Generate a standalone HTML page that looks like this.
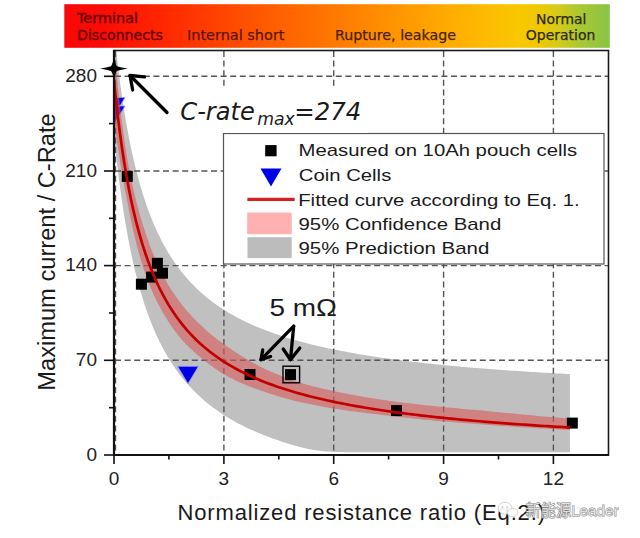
<!DOCTYPE html>
<html><head><meta charset="utf-8"><style>
html,body{margin:0;padding:0;background:#fff;}
body{width:640px;height:538px;overflow:hidden;}
svg{display:block;}
.arial{font-family:"Liberation Sans",Arial,sans-serif;}
.verd{font-family:"DejaVu Sans",Verdana,sans-serif;}
</style></head><body>
<svg width="640" height="538" viewBox="0 0 640 538">
<defs>
<linearGradient id="bar" x1="0" y1="0" x2="1" y2="0">
<stop offset="0" stop-color="#f80808"/>
<stop offset="0.07" stop-color="#fa0c06"/>
<stop offset="0.193" stop-color="#ff2a00"/>
<stop offset="0.358" stop-color="#ff5800"/>
<stop offset="0.486" stop-color="#ff7600"/>
<stop offset="0.633" stop-color="#ff9b00"/>
<stop offset="0.743" stop-color="#ffb400"/>
<stop offset="0.835" stop-color="#f8c800"/>
<stop offset="0.872" stop-color="#eec802"/>
<stop offset="0.908" stop-color="#d2cb1e"/>
<stop offset="0.945" stop-color="#aac832"/>
<stop offset="1" stop-color="#88c446"/>
</linearGradient>
<clipPath id="plot"><rect x="114" y="51" width="494" height="403"/></clipPath>
</defs>
<rect x="64.3" y="4.2" width="545.5" height="43.6" fill="url(#bar)"/>
<g class="verd" font-size="14" stroke-width="0.25">
<text x="77" y="23" fill="#6e0404" stroke="#6e0404" stroke-width="0.45" textLength="61" lengthAdjust="spacingAndGlyphs">Terminal</text>
<text x="77" y="39.8" fill="#6e0404" stroke="#6e0404" stroke-width="0.45" textLength="86" lengthAdjust="spacingAndGlyphs">Disconnects</text>
<text x="187" y="40" fill="#5a1606" stroke="#5a1606" textLength="97.5" lengthAdjust="spacingAndGlyphs">Internal short</text>
<text x="335" y="40" fill="#4a2200" stroke="#4a2200" textLength="121" lengthAdjust="spacingAndGlyphs">Rupture, leakage</text>
<text x="536" y="23.9" fill="#2e2a08" stroke="#2e2a08" textLength="50.5" lengthAdjust="spacingAndGlyphs">Normal</text>
<text x="525.8" y="39.8" fill="#2e2a08" stroke="#2e2a08" textLength="69.5" lengthAdjust="spacingAndGlyphs">Operation</text>
</g>
<g clip-path="url(#plot)">
<path d="M114.00,29.34 114.31,32.47 114.62,35.56 114.93,38.60 115.24,41.58 115.55,44.52 115.86,47.41 116.17,50.26 116.48,53.06 116.79,55.81 117.10,58.53 117.41,61.20 117.72,63.83 118.03,66.42 118.34,68.97 118.66,71.48 118.97,73.95 119.28,76.39 119.59,78.79 119.90,81.16 120.21,83.49 120.52,85.79 120.83,88.06 121.14,90.29 121.45,92.50 121.76,94.67 122.07,96.81 122.38,98.92 122.69,101.01 123.00,103.06 123.31,105.09 123.62,107.09 123.93,109.07 124.24,111.01 124.55,112.94 124.86,114.83 125.17,116.71 125.48,118.55 125.79,120.38 126.10,122.18 126.41,123.96 126.72,125.72 127.03,127.45 127.34,129.16 127.65,130.86 127.97,132.53 128.28,134.18 128.59,135.81 128.90,137.42 129.21,139.01 129.52,140.58 129.83,142.14 130.14,143.68 130.45,145.19 130.76,146.69 131.07,148.18 131.38,149.64 131.69,151.09 132.00,152.53 132.31,153.94 133.24,158.10 134.17,162.12 135.10,166.01 136.03,169.77 136.97,173.42 137.90,176.96 138.83,180.39 139.76,183.72 140.69,186.95 141.62,190.08 142.55,193.13 143.48,196.09 144.41,198.97 145.34,201.77 146.28,204.49 147.21,207.14 148.14,209.72 149.07,212.24 150.00,214.69 150.93,217.08 151.86,219.40 152.79,221.68 153.72,223.89 154.65,226.05 155.59,228.16 156.52,230.22 157.45,232.24 158.38,234.20 159.31,236.12 160.24,238.00 161.17,239.84 162.10,241.63 163.03,243.39 163.96,245.11 164.90,246.79 165.83,248.44 166.76,250.05 167.69,251.63 168.62,253.18 169.55,254.70 170.48,256.18 171.41,257.64 172.34,259.06 173.27,260.46 174.21,261.84 175.14,263.18 176.07,264.50 177.00,265.80 177.93,267.07 178.86,268.32 179.79,269.55 180.72,270.75 181.65,271.93 182.58,273.10 183.52,274.24 184.45,275.36 185.38,276.46 186.31,277.54 187.24,278.61 190.46,282.15 193.67,285.49 196.89,288.66 200.10,291.65 203.32,294.50 206.53,297.20 209.75,299.77 212.97,302.22 216.18,304.55 219.40,306.78 222.61,308.91 225.83,310.94 229.05,312.89 232.26,314.76 235.48,316.55 238.69,318.27 241.91,319.92 245.12,321.50 248.34,323.03 251.56,324.50 254.77,325.92 257.99,327.28 261.20,328.60 264.42,329.87 267.63,331.10 270.85,332.28 274.07,333.43 277.28,334.54 280.50,335.62 283.71,336.66 286.93,337.66 290.15,338.64 293.36,339.59 296.58,340.51 299.79,341.40 303.01,342.27 306.22,343.11 309.44,343.93 312.66,344.72 315.87,345.50 319.09,346.25 322.30,346.98 325.52,347.70 328.73,348.39 331.95,349.07 335.17,349.73 338.38,350.37 341.60,351.00 344.81,351.61 348.03,352.20 351.25,352.79 354.46,353.35 357.68,353.91 360.89,354.45 364.11,354.98 367.32,355.50 370.54,356.01 373.76,356.50 376.97,356.98 380.19,357.46 383.40,357.92 386.62,358.37 389.83,358.82 393.05,359.25 396.27,359.68 399.48,360.09 402.70,360.50 405.91,360.90 409.13,361.29 412.35,361.67 415.56,362.05 418.78,362.42 421.99,362.78 425.21,363.13 428.42,363.48 431.64,363.82 434.86,364.16 438.07,364.49 441.29,364.81 444.50,365.13 447.72,365.44 450.93,365.74 454.15,366.04 457.37,366.34 460.58,366.63 463.80,366.91 467.01,367.19 470.23,367.47 473.45,367.74 476.66,368.00 479.88,368.26 483.09,368.52 486.31,368.77 489.52,369.02 492.74,369.26 495.96,369.50 499.17,369.74 502.39,369.97 505.60,370.20 508.82,370.43 512.03,370.65 515.25,370.87 518.47,371.08 521.68,371.29 524.90,371.50 528.11,371.71 531.33,371.91 534.55,372.11 537.76,372.30 540.98,372.49 544.19,372.68 547.41,372.87 550.62,373.06 553.84,373.24 557.06,373.42 560.27,373.59 563.49,373.77 566.70,373.94 569.92,374.11 L569.92,452.29 566.70,452.29 563.49,452.29 560.27,452.29 557.06,452.29 553.84,452.29 550.62,452.29 547.41,452.29 544.19,452.29 540.98,452.29 537.76,452.29 534.55,452.29 531.33,452.29 528.11,452.29 524.90,452.29 521.68,452.29 518.47,452.29 515.25,452.29 512.03,452.29 508.82,452.29 505.60,452.29 502.39,452.29 499.17,452.29 495.96,452.29 492.74,452.29 489.52,452.29 486.31,452.29 483.09,452.29 479.88,452.29 476.66,452.29 473.45,452.29 470.23,452.29 467.01,452.29 463.80,452.29 460.58,452.29 457.37,452.29 454.15,452.29 450.93,452.29 447.72,452.29 444.50,452.29 441.29,452.29 438.07,452.29 434.86,452.29 431.64,452.29 428.42,452.29 425.21,452.29 421.99,452.29 418.78,452.29 415.56,452.29 412.35,452.29 409.13,452.29 405.91,452.29 402.70,452.29 399.48,452.29 396.27,452.29 393.05,452.29 389.83,452.29 386.62,452.29 383.40,452.29 380.19,452.29 376.97,452.28 373.76,452.28 370.54,452.28 367.32,452.27 364.11,452.27 360.89,452.26 357.68,452.25 354.46,452.23 351.25,452.21 348.03,452.18 344.81,452.14 341.60,452.09 338.38,452.02 335.17,451.92 331.95,451.79 328.73,451.61 325.52,451.39 322.30,451.09 319.09,450.72 315.87,450.28 312.66,449.74 309.44,449.13 306.22,448.45 303.01,447.70 299.79,446.90 296.58,446.04 293.36,445.14 290.15,444.20 286.93,443.23 283.71,442.21 280.50,441.16 277.28,440.08 274.07,438.96 270.85,437.80 267.63,436.60 264.42,435.35 261.20,434.07 257.99,432.74 254.77,431.36 251.56,429.93 248.34,428.44 245.12,426.90 241.91,425.30 238.69,423.64 235.48,421.90 232.26,420.10 229.05,418.22 225.83,416.26 222.61,414.21 219.40,412.06 216.18,409.82 212.97,407.47 209.75,405.01 206.53,402.43 203.32,399.71 200.10,396.85 196.89,393.84 193.67,390.66 190.46,387.31 187.24,383.75 186.31,382.68 185.38,381.59 184.45,380.49 183.52,379.36 182.58,378.22 181.65,377.05 180.72,375.87 179.79,374.66 178.86,373.43 177.93,372.17 177.00,370.90 176.07,369.60 175.14,368.27 174.21,366.92 173.27,365.55 172.34,364.14 171.41,362.71 170.48,361.25 169.55,359.76 168.62,358.24 167.69,356.69 166.76,355.11 165.83,353.49 164.90,351.84 163.96,350.15 163.03,348.43 162.10,346.67 161.17,344.87 160.24,343.03 159.31,341.14 158.38,339.22 157.45,337.25 156.52,335.23 155.59,333.17 154.65,331.05 153.72,328.89 152.79,326.67 151.86,324.39 150.93,322.06 150.00,319.67 149.07,317.21 148.14,314.69 147.21,312.11 146.28,309.45 145.34,306.73 144.41,303.92 143.48,301.04 142.55,298.07 141.62,295.02 140.69,291.88 139.76,288.65 138.83,285.32 137.90,281.89 136.97,278.34 136.03,274.69 135.10,270.92 134.17,267.03 133.24,263.00 132.31,258.84 132.00,257.42 131.69,255.99 131.38,254.54 131.07,253.07 130.76,251.59 130.45,250.08 130.14,248.57 129.83,247.03 129.52,245.47 129.21,243.90 128.90,242.30 128.59,240.69 128.28,239.06 127.97,237.41 127.65,235.74 127.34,234.04 127.03,232.33 126.72,230.59 126.41,228.83 126.10,227.05 125.79,225.25 125.48,223.42 125.17,221.57 124.86,219.70 124.55,217.80 124.24,215.88 123.93,213.93 123.62,211.95 123.31,209.95 123.00,207.92 122.69,205.87 122.38,203.78 122.07,201.67 121.76,199.52 121.45,197.35 121.14,195.14 120.83,192.91 120.52,190.64 120.21,188.34 119.90,186.00 119.59,183.64 119.28,181.23 118.97,178.79 118.66,176.32 118.34,173.80 118.03,171.25 117.72,168.66 117.41,166.03 117.10,163.36 116.79,160.64 116.48,157.89 116.17,155.09 115.86,152.24 115.55,149.35 115.24,146.41 114.93,143.42 114.62,140.38 114.31,137.29 114.00,134.15 Z" fill="#c0c0c0"/>
<g stroke="#555" stroke-width="1.4" stroke-dasharray="6 3.6" fill="none">
<line x1="115" y1="360.3" x2="608" y2="360.3"/>
<line x1="115" y1="265.6" x2="608" y2="265.6"/>
<line x1="115" y1="171.0" x2="608" y2="171.0"/>
<line x1="115" y1="76.3" x2="608" y2="76.3"/>
<line x1="115.5" y1="51" x2="115.5" y2="454"/>
<line x1="223.9" y1="51" x2="223.9" y2="454"/>
<line x1="333.7" y1="51" x2="333.7" y2="454"/>
<line x1="443.6" y1="51" x2="443.6" y2="454"/>
<line x1="553.4" y1="51" x2="553.4" y2="454"/>
</g>
<g fill="#0000e0" stroke="#9aa0ff" stroke-width="0.8">
<polygon points="104.0,97.6 125.0,97.6 114.5,115.1"/><polygon points="104.0,106.0 125.0,106.0 114.5,123.5"/><polygon points="177.5,366.3 198.5,366.3 188.0,383.8"/>
</g>
<path d="M114.00,44.73 114.31,48.32 114.62,51.86 114.93,55.35 115.24,58.79 115.55,62.18 115.86,65.53 116.17,68.83 116.48,72.08 116.79,75.29 117.10,78.45 117.41,81.58 117.72,84.66 118.03,87.70 118.34,90.71 118.66,93.67 118.97,96.60 119.28,99.49 119.59,102.30 119.90,104.97 120.21,107.60 120.52,110.20 120.83,112.76 121.14,115.29 121.45,117.79 121.76,120.26 122.07,122.70 122.38,125.12 122.69,127.50 123.00,129.85 123.31,132.18 123.62,134.47 123.93,136.75 124.24,138.99 124.55,141.21 124.86,143.41 125.17,145.58 125.48,147.73 125.79,149.85 126.10,151.95 126.41,154.02 126.72,156.08 127.03,157.90 127.34,159.62 127.65,161.31 127.97,162.98 128.28,164.64 128.59,166.27 128.90,167.88 129.21,169.47 129.52,171.05 129.83,172.60 130.14,174.14 130.45,175.66 130.76,177.16 131.07,178.65 131.38,180.11 131.69,181.57 132.00,183.00 132.31,184.42 133.24,188.58 134.17,192.60 135.10,196.50 136.03,200.27 136.97,203.92 137.90,207.46 138.83,210.90 139.76,214.23 140.69,217.46 141.62,220.60 142.55,223.65 143.48,226.63 144.41,229.59 145.34,232.47 146.28,235.27 147.21,238.01 148.14,240.67 149.07,243.26 150.00,245.79 150.93,248.26 151.86,250.67 152.79,253.02 153.72,255.32 154.65,257.56 155.59,259.75 156.52,261.89 157.45,263.98 158.38,266.03 159.31,268.03 160.24,269.99 161.17,271.91 162.10,273.75 163.03,275.52 163.96,277.26 164.90,278.96 165.83,280.62 166.76,282.25 167.69,283.84 168.62,285.41 169.55,286.94 170.48,288.44 171.41,289.91 172.34,291.36 173.27,292.77 174.21,294.16 175.14,295.53 176.07,296.86 177.00,298.17 177.93,299.46 178.86,300.73 179.79,301.97 180.72,303.19 181.65,304.39 182.58,305.57 183.52,306.72 184.45,307.86 185.38,308.98 186.31,310.08 187.24,311.16 190.46,314.76 193.67,318.16 196.89,321.38 200.10,324.43 203.32,327.51 206.53,330.44 209.75,333.23 212.97,335.91 216.18,338.47 219.40,340.93 222.61,343.28 225.83,345.55 229.05,347.73 232.26,349.92 235.48,352.09 238.69,354.19 241.91,356.21 245.12,358.18 248.34,360.08 251.56,361.93 254.77,363.72 257.99,365.47 261.20,367.16 264.42,368.69 267.63,370.15 270.85,371.56 274.07,372.93 277.28,374.27 280.50,375.57 283.71,376.83 286.93,378.07 290.15,379.27 293.36,380.44 296.58,381.59 299.79,382.70 303.01,383.62 306.22,384.49 309.44,385.34 312.66,386.16 315.87,386.97 319.09,387.75 322.30,388.51 325.52,389.26 328.73,389.98 331.95,390.69 335.17,391.38 338.38,392.05 341.60,392.71 344.81,393.35 348.03,393.98 351.25,394.59 354.46,395.19 357.68,395.77 360.89,396.35 364.11,396.91 367.32,397.45 370.54,397.99 373.76,398.52 376.97,399.03 380.19,399.53 383.40,399.99 386.62,400.44 389.83,400.88 393.05,401.32 396.27,401.74 399.48,402.15 402.70,402.56 405.91,402.96 409.13,403.35 412.35,403.73 415.56,404.10 418.78,404.47 421.99,404.83 425.21,405.18 428.42,405.53 431.64,405.87 434.86,406.20 438.07,406.53 441.29,406.85 444.50,407.16 447.72,407.47 450.93,407.78 454.15,408.07 457.37,408.37 460.58,408.65 463.80,408.94 467.01,409.22 470.23,409.49 473.45,409.76 476.66,410.02 479.88,410.28 483.09,410.62 486.31,410.96 489.52,411.30 492.74,411.63 495.96,411.95 499.17,412.28 502.39,412.59 505.60,412.91 508.82,413.22 512.03,413.53 515.25,413.83 518.47,414.14 521.68,414.43 524.90,414.73 528.11,415.02 531.33,415.31 534.55,415.59 537.76,415.88 540.98,416.15 544.19,416.43 547.41,416.70 550.62,416.98 553.84,417.24 557.06,417.51 560.27,417.77 563.49,418.01 566.70,418.26 569.92,418.49 L569.92,430.03 566.70,429.84 563.49,429.66 560.27,429.47 557.06,429.29 553.84,429.11 550.62,428.93 547.41,428.75 544.19,428.57 540.98,428.38 537.76,428.19 534.55,427.99 531.33,427.79 528.11,427.59 524.90,427.39 521.68,427.19 518.47,426.98 515.25,426.76 512.03,426.55 508.82,426.33 505.60,426.10 502.39,425.88 499.17,425.65 495.96,425.41 492.74,425.17 489.52,424.93 486.31,424.68 483.09,424.43 479.88,424.18 476.66,423.96 473.45,423.73 470.23,423.50 467.01,423.27 463.80,423.03 460.58,422.79 457.37,422.54 454.15,422.28 450.93,422.02 447.72,421.76 444.50,421.49 441.29,421.21 438.07,420.93 434.86,420.64 431.64,420.35 428.42,420.05 425.21,419.74 421.99,419.42 418.78,419.10 415.56,418.77 412.35,418.44 409.13,418.10 405.91,417.74 402.70,417.39 399.48,417.02 396.27,416.64 393.05,416.26 389.83,415.86 386.62,415.46 383.40,415.05 380.19,414.63 376.97,414.28 373.76,413.93 370.54,413.57 367.32,413.20 364.11,412.82 360.89,412.42 357.68,412.01 354.46,411.59 351.25,411.16 348.03,410.71 344.81,410.25 341.60,409.77 338.38,409.28 335.17,408.77 331.95,408.25 328.73,407.71 325.52,407.15 322.30,406.57 319.09,405.97 315.87,405.35 312.66,404.71 309.44,404.05 306.22,403.37 303.01,402.66 299.79,401.93 296.58,401.17 293.36,400.38 290.15,399.56 286.93,398.71 283.71,397.83 280.50,396.92 277.28,395.98 274.07,394.99 270.85,393.98 267.63,392.92 264.42,391.82 261.20,390.70 257.99,389.60 254.77,388.45 251.56,387.25 248.34,386.00 245.12,384.69 241.91,383.32 238.69,381.89 235.48,380.39 232.26,378.82 229.05,377.14 225.83,375.32 222.61,373.41 219.40,371.40 216.18,369.30 212.97,367.09 209.75,364.77 206.53,362.32 203.32,359.75 200.10,357.03 196.89,354.38 193.67,351.57 190.46,348.58 187.24,345.39 186.31,344.43 185.38,343.45 184.45,342.45 183.52,341.43 182.58,340.39 181.65,339.33 180.72,338.25 179.79,337.15 178.86,336.03 177.93,334.88 177.00,333.71 176.07,332.52 175.14,331.30 174.21,330.06 173.27,328.79 172.34,327.49 171.41,326.16 170.48,324.81 169.55,323.43 168.62,322.01 167.69,320.57 166.76,319.09 165.83,317.58 164.90,316.04 163.96,314.46 163.03,312.84 162.10,311.19 161.17,309.51 160.24,307.83 159.31,306.10 158.38,304.32 157.45,302.50 156.52,300.64 155.59,298.73 154.65,296.77 153.72,294.75 152.79,292.69 151.86,290.56 150.93,288.38 150.00,286.14 149.07,283.84 148.14,281.48 147.21,279.04 146.28,276.54 145.34,273.97 144.41,271.32 143.48,268.59 142.55,265.65 141.62,262.60 140.69,259.46 139.76,256.23 138.83,252.90 137.90,249.46 136.97,245.92 136.03,242.27 135.10,238.50 134.17,234.60 133.24,230.58 132.31,226.42 132.00,225.00 131.69,223.57 131.38,222.11 131.07,220.65 130.76,219.16 130.45,217.66 130.14,216.14 129.83,214.60 129.52,213.05 129.21,211.47 128.90,209.88 128.59,208.27 128.28,206.64 127.97,204.98 127.65,203.31 127.34,201.62 127.03,199.90 126.72,198.26 126.41,196.80 126.10,195.31 125.79,193.81 125.48,192.28 125.17,190.72 124.86,189.15 124.55,187.54 124.24,185.92 123.93,184.26 123.62,182.59 123.31,180.88 123.00,179.15 122.69,177.39 122.38,175.60 122.07,173.78 121.76,171.93 121.45,170.06 121.14,168.15 120.83,166.21 120.52,164.24 120.21,162.23 119.90,160.20 119.59,158.12 119.28,156.13 118.97,154.14 118.66,152.11 118.34,150.05 118.03,147.95 117.72,145.81 117.41,143.63 117.10,141.41 116.79,139.15 116.48,136.85 116.17,134.50 115.86,132.10 115.55,129.66 115.24,127.18 114.93,124.64 114.62,122.06 114.31,119.42 114.00,116.73 Z" fill="#d85858" fill-opacity="0.6"/>
<g fill="#000">
<rect x="121.8" y="170.9" width="11.0" height="11.0"/>
<rect x="151.9" y="257.8" width="11.0" height="11.0"/>
<rect x="157.0" y="267.7" width="11.0" height="11.0"/>
<rect x="146.1" y="271.6" width="11.0" height="11.0"/>
<rect x="135.9" y="278.7" width="11.0" height="11.0"/>
<rect x="244.5" y="369.0" width="11.0" height="11.0"/>
<rect x="285.0" y="369.1" width="11.0" height="11.0"/>
<rect x="391.0" y="405.1" width="11.0" height="11.0"/>
<rect x="566.8" y="417.6" width="11.0" height="11.0"/>
</g>
<path d="M114.00,80.73 114.31,83.87 114.62,86.96 114.93,90.00 115.24,92.99 115.55,95.92 115.86,98.82 116.17,101.66 116.48,104.46 116.79,107.22 117.10,109.93 117.41,112.61 117.72,115.24 118.03,117.83 118.34,120.38 118.66,122.89 118.97,125.37 119.28,127.81 119.59,130.21 119.90,132.58 120.21,134.92 120.52,137.22 120.83,139.48 121.14,141.72 121.45,143.92 121.76,146.10 122.07,148.24 122.38,150.36 122.69,152.44 123.00,154.50 123.31,156.53 123.62,158.53 123.93,160.51 124.24,162.45 124.55,164.38 124.86,166.28 125.17,168.15 125.48,170.00 125.79,171.83 126.10,173.63 126.41,175.41 126.72,177.17 127.03,178.90 127.34,180.62 127.65,182.31 127.97,183.98 128.28,185.64 128.59,187.27 128.90,188.88 129.21,190.47 129.52,192.05 129.83,193.60 130.14,195.14 130.45,196.66 130.76,198.16 131.07,199.65 131.38,201.11 131.69,202.57 132.00,204.00 132.31,205.42 133.24,209.58 134.17,213.60 135.10,217.50 136.03,221.27 136.97,224.92 137.90,228.46 138.83,231.90 139.76,235.23 140.69,238.46 141.62,241.60 142.55,244.65 143.48,247.62 144.41,250.50 145.34,253.30 146.28,256.03 147.21,258.69 148.14,261.27 149.07,263.79 150.00,266.24 150.93,268.64 151.86,270.97 152.79,273.24 153.72,275.46 154.65,277.63 155.59,279.74 156.52,281.81 157.45,283.82 158.38,285.79 159.31,287.72 160.24,289.60 161.17,291.44 162.10,293.24 163.03,295.00 163.96,296.73 164.90,298.41 165.83,300.06 166.76,301.68 167.69,303.27 168.62,304.82 169.55,306.34 170.48,307.83 171.41,309.29 172.34,310.72 173.27,312.12 174.21,313.50 175.14,314.85 176.07,316.17 177.00,317.47 177.93,318.75 178.86,320.00 179.79,321.23 180.72,322.44 181.65,323.63 182.58,324.79 183.52,325.94 184.45,327.06 185.38,328.17 186.31,329.26 187.24,330.33 190.46,333.88 193.67,337.24 196.89,340.42 200.10,343.43 203.32,346.29 206.53,349.01 209.75,351.59 212.97,354.05 216.18,356.40 219.40,358.64 222.61,360.78 225.83,362.83 229.05,364.79 232.26,366.68 235.48,368.48 238.69,370.21 241.91,371.88 245.12,373.48 248.34,375.02 251.56,376.50 254.77,377.94 257.99,379.31 261.20,380.65 264.42,381.93 267.63,383.17 270.85,384.37 274.07,385.54 277.28,386.66 280.50,387.75 283.71,388.80 286.93,389.83 290.15,390.82 293.36,391.78 296.58,392.71 299.79,393.62 303.01,394.50 306.22,395.36 309.44,396.19 312.66,397.00 315.87,397.79 319.09,398.55 322.30,399.30 325.52,400.03 328.73,400.74 331.95,401.43 335.17,402.10 338.38,402.76 341.60,403.40 344.81,404.03 348.03,404.64 351.25,405.23 354.46,405.82 357.68,406.38 360.89,406.94 364.11,407.49 367.32,408.02 370.54,408.54 373.76,409.05 376.97,409.54 380.19,410.03 383.40,410.51 386.62,410.98 389.83,411.43 393.05,411.88 396.27,412.32 399.48,412.75 402.70,413.17 405.91,413.59 409.13,413.99 412.35,414.39 415.56,414.78 418.78,415.16 421.99,415.54 425.21,415.91 428.42,416.27 431.64,416.63 434.86,416.98 438.07,417.32 441.29,417.66 444.50,417.99 447.72,418.31 450.93,418.63 454.15,418.95 457.37,419.25 460.58,419.56 463.80,419.86 467.01,420.15 470.23,420.44 473.45,420.72 476.66,421.00 479.88,421.28 483.09,421.55 486.31,421.82 489.52,422.08 492.74,422.34 495.96,422.59 499.17,422.84 502.39,423.09 505.60,423.33 508.82,423.57 512.03,423.81 515.25,424.04 518.47,424.27 521.68,424.49 524.90,424.72 528.11,424.94 531.33,425.15 534.55,425.36 537.76,425.57 540.98,425.78 544.19,425.99 547.41,426.19 550.62,426.39 553.84,426.58 557.06,426.78 560.27,426.97 563.49,427.16 566.70,427.34 569.92,427.53" fill="none" stroke="#c20000" stroke-width="2.7"/>
</g>
<rect x="283" y="366.2" width="16.6" height="16.6" fill="none" stroke="#000" stroke-width="1.4"/>
<rect x="114" y="50.5" width="494.5" height="404.5" fill="none" stroke="#1a1a1a" stroke-width="1.6"/>
<line x1="114" y1="50" x2="114" y2="456" stroke="#111" stroke-width="2.2"/>
<line x1="113" y1="455" x2="609" y2="455" stroke="#111" stroke-width="2"/>
<g stroke="#111" stroke-width="1.6">
<line x1="104" y1="455.0" x2="114" y2="455.0"/>
<line x1="104" y1="360.3" x2="114" y2="360.3"/>
<line x1="104" y1="265.6" x2="114" y2="265.6"/>
<line x1="104" y1="171.0" x2="114" y2="171.0"/>
<line x1="104" y1="76.3" x2="114" y2="76.3"/>
<line x1="109" y1="407.7" x2="114" y2="407.7"/>
<line x1="109" y1="313.0" x2="114" y2="313.0"/>
<line x1="109" y1="218.3" x2="114" y2="218.3"/>
<line x1="109" y1="123.6" x2="114" y2="123.6"/>
<line x1="114.0" y1="455" x2="114.0" y2="464"/>
<line x1="223.9" y1="455" x2="223.9" y2="464"/>
<line x1="333.7" y1="455" x2="333.7" y2="464"/>
<line x1="443.6" y1="455" x2="443.6" y2="464"/>
<line x1="553.4" y1="455" x2="553.4" y2="464"/>
<line x1="168.9" y1="455" x2="168.9" y2="459.5"/>
<line x1="278.8" y1="455" x2="278.8" y2="459.5"/>
<line x1="388.6" y1="455" x2="388.6" y2="459.5"/>
<line x1="498.5" y1="455" x2="498.5" y2="459.5"/>
</g>
<path d="M100.10,68.60 Q106.60,67.54 111.10,66.20 Q112.67,63.36 113.90,59.10 Q115.13,63.36 116.70,66.20 Q121.20,67.54 127.70,68.60 Q121.20,69.66 116.70,71.00 Q115.13,73.84 113.90,78.10 Q112.67,73.84 111.10,71.00 Q106.60,69.66 100.10,68.60Z" fill="#000"/>
<g class="arial" font-size="19" fill="#222">
<text x="97" y="460.8" text-anchor="end">0</text>
<text x="97" y="366.1" text-anchor="end">70</text>
<text x="97" y="271.4" text-anchor="end">140</text>
<text x="97" y="176.8" text-anchor="end">210</text>
<text x="97" y="82.1" text-anchor="end">280</text>
<text x="114.0" y="485.3" text-anchor="middle">0</text>
<text x="223.9" y="485.3" text-anchor="middle">3</text>
<text x="333.7" y="485.3" text-anchor="middle">6</text>
<text x="443.6" y="485.3" text-anchor="middle">9</text>
<text x="553.4" y="485.3" text-anchor="middle">12</text>
</g>
<text class="arial" font-size="23" fill="#1a1a1a" transform="translate(55.3,252.0) rotate(-90)" text-anchor="middle" textLength="277.5" lengthAdjust="spacingAndGlyphs">Maximum current / C-Rate</text>
<text class="arial" font-size="22" fill="#1a1a1a" x="177.5" y="520.4" textLength="367.5" lengthAdjust="spacing">Normalized resistance ratio (Eq.2.)</text>
<!-- legend -->
<rect x="223.5" y="133.5" width="380.5" height="130.5" fill="#fff" stroke="#555" stroke-width="1.2"/>
<rect x="265.2" y="145.1" width="11.4" height="11.2" fill="#000"/>
<polygon points="260.5,168.4 281.5,168.4 271,186.5" fill="#0000e6"/>
<line x1="247.4" y1="199.3" x2="294.7" y2="199.3" stroke="#d42020" stroke-width="3.2"/>
<rect x="247.2" y="212.6" width="44.5" height="21.6" fill="#ffb0b0"/>
<rect x="247.5" y="237.2" width="44.2" height="20.9" fill="#bcbcbc"/>
<g class="arial" font-size="17" fill="#1a1a1a">
<text x="298.6" y="156.3" textLength="278.5" lengthAdjust="spacingAndGlyphs">Measured on 10Ah pouch cells</text>
<text x="298.8" y="181" textLength="92.5" lengthAdjust="spacingAndGlyphs">Coin Cells</text>
<text x="298.2" y="205.6" textLength="281.5" lengthAdjust="spacingAndGlyphs">Fitted curve according to Eq. 1.</text>
<text x="298.5" y="230.2" textLength="202.8" lengthAdjust="spacingAndGlyphs">95% Confidence Band</text>
<text x="298.5" y="254.3" textLength="190.8" lengthAdjust="spacingAndGlyphs">95% Prediction Band</text>
</g>
<!-- annotations -->
<rect x="172" y="89" width="196" height="44" fill="#fff"/>
<g class="verd" font-style="italic" fill="#1a1a1a">
<text font-size="24" x="180.3" y="120" textLength="74.5" lengthAdjust="spacingAndGlyphs">C-rate</text>
<text font-size="17.5" x="257.3" y="125.4" textLength="37.5" lengthAdjust="spacingAndGlyphs">max</text>
<text font-size="24.5" x="294.3" y="120.2" textLength="67" lengthAdjust="spacingAndGlyphs">=274</text>
</g>
<g stroke="#000" stroke-width="3.3" fill="none" stroke-linecap="round" stroke-linejoin="round">
<line x1="167" y1="112.5" x2="130" y2="75.5"/>
<polyline points="144.6,76.8 130,75.5 132.7,90"/>
<line x1="293.7" y1="326.2" x2="261" y2="359.7"/>
<polyline points="262.7,350 261,359.7 270.6,356.5"/>
<line x1="293.7" y1="326.2" x2="290.5" y2="359.7"/>
<polyline points="283.2,349 290.5,359.7 299.8,348"/>
</g>
<text class="arial" font-size="23" fill="#1a1a1a" x="269.5" y="316" textLength="67.5" lengthAdjust="spacingAndGlyphs">5 mΩ</text>
<!-- watermark -->
<g stroke="#b8b8b8" stroke-width="0.6" fill="#fff" fill-opacity="0.93">
<ellipse cx="505" cy="508.3" rx="7" ry="6"/>
<ellipse cx="512.5" cy="512.5" rx="5.2" ry="4.3"/>
</g>
<g fill="#c8c8c8"><circle cx="502.5" cy="507" r="0.9"/><circle cx="507" cy="507" r="0.9"/></g>
<text x="525.5" y="515.5" font-family="'Liberation Sans','Noto Sans CJK SC',sans-serif" font-size="15.5" fill="#fff" fill-opacity="0.75" stroke="#6a6a6a" stroke-width="1.0" stroke-opacity="0.85" paint-order="stroke" textLength="93" lengthAdjust="spacingAndGlyphs">新能源Leader</text>
</svg>
</body></html>
